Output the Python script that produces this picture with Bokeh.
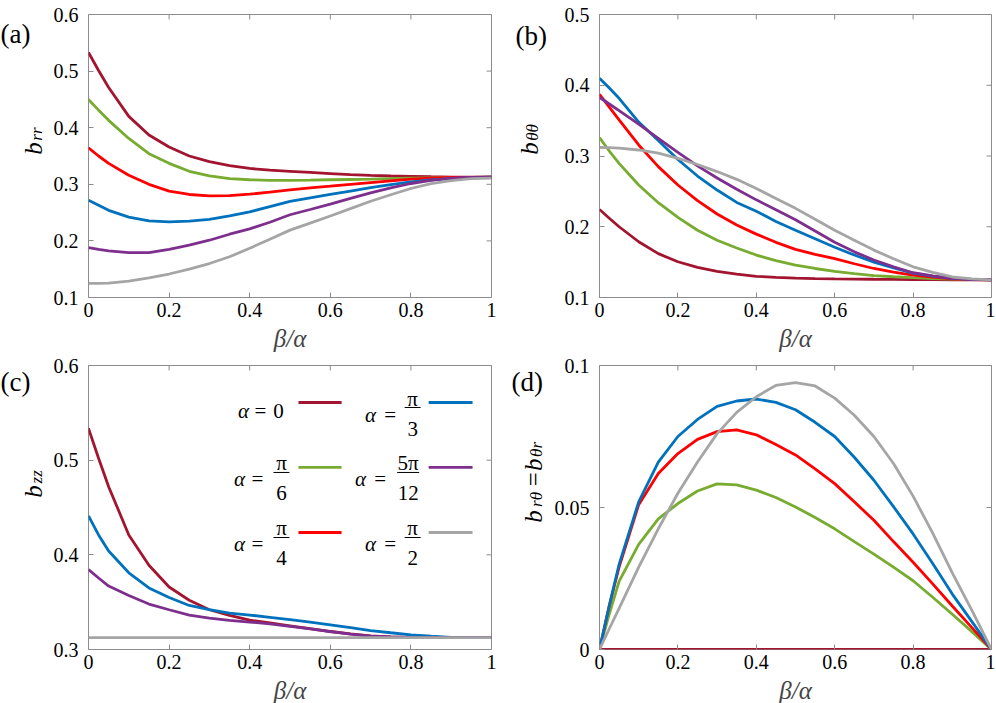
from bokeh.plotting import figure
from bokeh.models import Range1d, FixedTicker
from bokeh.layouts import column, row
from bokeh.embed import file_html
from bokeh.resources import INLINE
from bokeh.core.properties import value

# ---------------- data ----------------
beta = [0, 0.025, 0.05, 0.1, 0.15, 0.2, 0.25, 0.3, 0.35, 0.4, 0.45, 0.5,
        0.55, 0.6, 0.65, 0.7, 0.75, 0.8, 0.85, 0.9, 0.95, 1.0]

# panel (a): b_rr
brr_a0  = [0.533, 0.501, 0.471, 0.420, 0.387, 0.366, 0.350, 0.340, 0.333, 0.328, 0.325, 0.323,
           0.321, 0.319, 0.317, 0.3157, 0.3147, 0.314, 0.3133, 0.3128, 0.3126, 0.3125]
brr_a30 = [0.450, 0.431, 0.413, 0.381, 0.354, 0.337, 0.323, 0.315, 0.310, 0.308, 0.307, 0.307,
           0.3072, 0.308, 0.3085, 0.309, 0.310, 0.311, 0.3115, 0.312, 0.3123, 0.3125]
brr_a45 = [0.3645, 0.350, 0.337, 0.316, 0.300, 0.288, 0.282, 0.2796, 0.280, 0.2826, 0.286, 0.290,
           0.2935, 0.2966, 0.300, 0.303, 0.306, 0.309, 0.3107, 0.312, 0.3123, 0.3125]
brr_a60 = [0.272, 0.263, 0.254, 0.242, 0.2354, 0.2336, 0.2348, 0.238, 0.2443, 0.2513, 0.2605, 0.270,
           0.276, 0.282, 0.288, 0.294, 0.2995, 0.3044, 0.3078, 0.310, 0.3118, 0.3125]
brr_a75 = [0.1883, 0.185, 0.1824, 0.1794, 0.1794, 0.185, 0.1924, 0.2012, 0.2118, 0.2213, 0.233, 0.2462,
           0.2555, 0.265, 0.275, 0.285, 0.2935, 0.3014, 0.3068, 0.311, 0.312, 0.3125]
brr_a90 = [0.125, 0.125, 0.1255, 0.129, 0.1345, 0.1415, 0.150, 0.160, 0.172, 0.187, 0.203, 0.219,
           0.2315, 0.244, 0.257, 0.270, 0.2815, 0.2926, 0.301, 0.3065, 0.310, 0.311]

# panel (b): b_thetatheta
btt_a0  = [0.2245, 0.212, 0.200, 0.1788, 0.162, 0.1505, 0.1425, 0.1368, 0.133, 0.130, 0.1285, 0.1274,
           0.1268, 0.1264, 0.1261, 0.1258, 0.1256, 0.1254, 0.1252, 0.1251, 0.125, 0.125]
btt_a30 = [0.326, 0.307, 0.2896, 0.259, 0.234, 0.2132, 0.195, 0.181, 0.170, 0.160, 0.152, 0.1458,
           0.141, 0.137, 0.1337, 0.131, 0.1293, 0.128, 0.1268, 0.126, 0.1253, 0.125]
btt_a45 = [0.387, 0.369, 0.351, 0.3156, 0.285, 0.259, 0.237, 0.218, 0.2024, 0.1896, 0.178, 0.168,
           0.161, 0.155, 0.1477, 0.141, 0.136, 0.1316, 0.1287, 0.1264, 0.1254, 0.125]
btt_a60 = [0.410, 0.396, 0.3816, 0.348, 0.322, 0.295, 0.2717, 0.2519, 0.2344, 0.222, 0.2075, 0.195,
           0.183, 0.171, 0.160, 0.150, 0.1417, 0.1345, 0.1302, 0.127, 0.1256, 0.125]
btt_a75 = [0.383, 0.3735, 0.364, 0.345, 0.325, 0.305, 0.286, 0.269, 0.253, 0.238, 0.224, 0.210,
           0.194, 0.178, 0.1645, 0.153, 0.1434, 0.135, 0.1305, 0.127, 0.1256, 0.125]
btt_a90 = [0.312, 0.3117, 0.311, 0.3085, 0.304, 0.2967, 0.288, 0.278, 0.267, 0.254, 0.240, 0.226,
           0.2105, 0.195, 0.181, 0.167, 0.1547, 0.1434, 0.1355, 0.129, 0.1262, 0.125]

# panel (c): b_zz
bzz_a0  = [0.5336, 0.502, 0.472, 0.421, 0.389, 0.366, 0.352, 0.342, 0.336, 0.331, 0.328, 0.325,
           0.322, 0.319, 0.3165, 0.3145, 0.3134, 0.3127, 0.3125, 0.3125, 0.3125, 0.3125]
bzz_a60 = [0.441, 0.421, 0.404, 0.381, 0.365, 0.355, 0.3465, 0.342, 0.3385, 0.3364, 0.334, 0.3315,
           0.329, 0.326, 0.323, 0.320, 0.3177, 0.3155, 0.314, 0.3127, 0.3126, 0.3125]
bzz_a75 = [0.3845, 0.3755, 0.367, 0.357, 0.348, 0.342, 0.3364, 0.3332, 0.3307, 0.329, 0.327, 0.3245,
           0.3217, 0.319, 0.3163, 0.314, 0.3132, 0.3125, 0.3125, 0.3125, 0.3125, 0.3125]
bzz_a90 = [0.3125] * 22

# panel (d): b_rtheta = b_thetar
brt_a0  = [0.0] * 22
brt_a30 = [0.0, 0.0125, 0.024, 0.037, 0.046, 0.0514, 0.0558, 0.0583, 0.058, 0.0561, 0.0535, 0.0502,
           0.0465, 0.0425, 0.038, 0.0336, 0.029, 0.0242, 0.0184, 0.0124, 0.0063, 0.0]
brt_a45 = [0.0, 0.0155, 0.029, 0.051, 0.062, 0.069, 0.074, 0.0767, 0.0773, 0.0756, 0.0722, 0.0685,
           0.0636, 0.0584, 0.052, 0.0455, 0.038, 0.0307, 0.0231, 0.0153, 0.0077, 0.0]
brt_a60 = [0.0, 0.0155, 0.030, 0.052, 0.066, 0.075, 0.081, 0.0856, 0.0875, 0.0882, 0.0870, 0.0844,
           0.080, 0.075, 0.0677, 0.0596, 0.0503, 0.0407, 0.0303, 0.0195, 0.0098, 0.0]
brt_a90 = [0.0, 0.0073, 0.0145, 0.029, 0.0425, 0.055, 0.066, 0.076, 0.0835, 0.089, 0.093, 0.094,
           0.0928, 0.0885, 0.0825, 0.075, 0.0655, 0.054, 0.041, 0.027, 0.0138, 0.0]

x_ticks = [0, 0.2, 0.4, 0.6, 0.8, 1]
x_tick_labels = ["0", "0.2", "0.4", "0.6", "0.8", "1"]
ya_ticks = [0.1, 0.2, 0.3, 0.4, 0.5, 0.6]
ya_tick_labels = ["0.1", "0.2", "0.3", "0.4", "0.5", "0.6"]
yb_ticks = [0.1, 0.2, 0.3, 0.4, 0.5]
yb_tick_labels = ["0.1", "0.2", "0.3", "0.4", "0.5"]
yc_ticks = [0.3, 0.4, 0.5, 0.6]
yc_tick_labels = ["0.3", "0.4", "0.5", "0.6"]
yd_ticks = [0, 0.05, 0.1]
yd_tick_labels = ["0", "0.05", "0.1"]

C0, C30, C45, C60, C75, C90 = "#A2142F", "#77AC30", "#FF0000", "#0072BD", "#7E2F8E", "#A5A5A5"

# ---------------- style ----------------
SERIF = "Liberation Serif"
GRAY = "#8c8c8c"
LW = 2.8
ROT = 1.5707963267948966


def make_panel(frame_w, frame_h, yr, yticks, ylabels, borders):
    l, r, t, b = borders
    p = figure(frame_width=frame_w, frame_height=frame_h,
               x_range=Range1d(0, 1), y_range=Range1d(*yr),
               output_backend="svg", toolbar_location=None,
               min_border_left=l, min_border_right=r,
               min_border_top=t, min_border_bottom=b,
               background_fill_color="white", border_fill_color="white",
               outline_line_color=GRAY, outline_line_width=1)
    p.xgrid.visible = False
    p.ygrid.visible = False
    xa = p.xaxis[0]
    xa.ticker = FixedTicker(ticks=x_ticks)
    xa.major_label_overrides = dict(zip(x_ticks, x_tick_labels))
    xa.axis_label = "β/α"
    xa.axis_label_text_font = SERIF
    xa.axis_label_text_font_style = "italic"
    xa.axis_label_text_font_size = "25px"
    xa.axis_label_standoff = 5
    ya = p.yaxis[0]
    ya.ticker = FixedTicker(ticks=yticks)
    ya.major_label_overrides = dict(zip(yticks, ylabels))
    for ax in (xa, ya):
        ax.axis_line_color = None
        ax.major_tick_in = 5
        ax.major_tick_out = 0
        ax.major_tick_line_color = GRAY
        ax.minor_tick_line_color = None
        ax.major_label_text_font = SERIF
        ax.major_label_text_font_size = "20px"
        ax.major_label_text_color = "black"
    xa.major_label_standoff = 5
    ya.major_label_standoff = 10
    # mirrored inward ticks on the top and right edges of the box
    p.scatter(x_ticks, [yr[1]] * len(x_ticks), marker="dash", size=10, angle=ROT,
              line_color=GRAY, line_width=1)
    p.scatter([1] * len(yticks), yticks, marker="dash", size=10,
              line_color=GRAY, line_width=1)
    return p


def make_text_strip(width, height):
    s = figure(width=width, height=height, x_range=Range1d(0, width), y_range=Range1d(height, 0),
               output_backend="svg", toolbar_location=None,
               x_axis_location=None, y_axis_location=None, min_border=0,
               outline_line_color=None, background_fill_color="white",
               border_fill_color="white")
    s.xgrid.visible = False
    s.ygrid.visible = False
    return s


def txt(p, x, y, s, size, style="normal", angle=0.0, align="left", baseline="alphabetic"):
    p.text(x=[x], y=[y], text=[s], angle=angle, text_font=value(SERIF),
           text_font_size=value(f"{size}px"), text_font_style=style,
           text_align=align, text_baseline=baseline, text_color="black")


# ---------------- panel (a) ----------------
pa = make_panel(403, 283, (0.1, 0.6), ya_ticks, ya_tick_labels, (40, 8, 14, 58))
for ys, c in ((brr_a0, C0), (brr_a30, C30), (brr_a45, C45), (brr_a60, C60), (brr_a75, C75), (brr_a90, C90)):
    pa.line(beta, ys, line_color=c, line_width=LW)
sa = make_text_strip(48, 355)
txt(sa, 0, 25, "(a)", 27)
txt(sa, 33, 168, "b", 25, "italic", ROT, "center")
txt(sa, 36, 150, "rr", 17, "italic", ROT, "center")

# ---------------- panel (b) ----------------
pb = make_panel(392, 283, (0.1, 0.5), yb_ticks, yb_tick_labels, (50, 4, 14, 58))
for ys, c in ((btt_a0, C0), (btt_a30, C30), (btt_a45, C45), (btt_a60, C60), (btt_a75, C75), (btt_a90, C90)):
    pb.line(beta, ys, line_color=c, line_width=LW)
sb = make_text_strip(50, 355)   # page x 499..549
txt(sb, 515 - 499, 27, "(b)", 27)
txt(sb, 529 - 499, 168, "b", 25, "italic", ROT, "center")
txt(sb, 532 - 499, 148, "θθ", 17, "italic", ROT, "center")

# ---------------- panel (c) ----------------
FW_C, FH_C = 403, 284
pc = make_panel(FW_C, FH_C, (0.3, 0.6), yc_ticks, yc_tick_labels, (40, 8, 10, 53))
for ys, c in ((bzz_a0, C0), (bzz_a60, C60), (bzz_a75, C75), (bzz_a90, C90)):
    pc.line(beta, ys, line_color=c, line_width=LW)
sc = make_text_strip(48, 347)   # page y 355..702
txt(sc, 0, 375 - 355, "(c)", 27)
txt(sc, 33, 511 - 355, "b", 25, "italic", ROT, "center")
txt(sc, 36, 493 - 355, "zz", 17, "italic", ROT, "center")

# legend inside panel (c): anchor rows/columns in data space, pieces offset in pixels
PXX = 1.0 / FW_C
PXY = 0.3 / FH_C
leg_rows = [0.5609, 0.4923, 0.4236]
leg_cols = [(0.521, 0.628), (0.844, 0.953)]
leg_entries = [
    (0, 0, C0, None, None, "0"),
    (0, 1, C30, "π", "6", None),
    (0, 2, C45, "π", "4", None),
    (1, 0, C60, "π", "3", None),
    (1, 1, C75, "5π", "12", None),
    (1, 2, C90, "π", "2", None),
]
tx, ty, tt, ts = [], [], [], []
bars_x0, bars_x1, bars_y = [], [], []
for col, r, c, num, den, plain in leg_entries:
    x0, x1 = leg_cols[col]
    yr_ = leg_rows[r]
    pc.line([x0, x1], [yr_, yr_], line_color=c, line_width=LW)
    if plain is not None:
        pieces = [("α", -55, 8, "italic"), ("=", -38, 8, "normal"), (plain, -20, 8, "normal")]
    else:
        if len(den) == 2:
            a_dx, e_dx, fc, hw = -68, -48.5, -20.5, 11
        elif col == 0:
            a_dx, e_dx, fc, hw = -59, -41, -17, 8
        else:
            a_dx, e_dx, fc, hw = -58, -38.5, -16, 8
        pieces = [("α", a_dx, 12, "italic"), ("=", e_dx, 12, "normal"),
                  (num, fc, -4, "normal"), (den, fc, 26, "normal")]
        bars_x0.append(x0 + (fc - hw) * PXX)
        bars_x1.append(x0 + (fc + hw) * PXX)
        bars_y.append(yr_ - 5 * PXY)
    for t, dx, dy, st in pieces:
        tx.append(x0 + dx * PXX)
        ty.append(yr_ - dy * PXY)
        tt.append(t)
        ts.append(st)

for style in ("normal", "italic"):
    idx = [i for i in range(len(tt)) if ts[i] == style]
    pc.text([tx[i] for i in idx], [ty[i] for i in idx], text=[tt[i] for i in idx],
            text_font=value(SERIF), text_font_size="21px", text_font_style=style,
            text_align="center", text_baseline="alphabetic", text_color="black")
pc.segment(bars_x0, bars_y, bars_x1, bars_y, line_color="black", line_width=1)

# ---------------- panel (d) ----------------
pd_ = make_panel(392, 284, (0, 0.1), yd_ticks, yd_tick_labels, (50, 4, 10, 53))
for ys, c in ((brt_a0, C0), (brt_a30, C30), (brt_a45, C45), (brt_a60, C60), (brt_a90, C90)):
    pd_.line(beta, ys, line_color=c, line_width=LW)
sd = make_text_strip(50, 347)   # page x 499..549, y 355..702
txt(sd, 511 - 499, 375 - 355, "(d)", 27)
txt(sd, 533 - 499, 542 - 355, "b", 25, "italic", ROT, "center")
txt(sd, 536 - 499, 521 - 355, "rθ", 17, "italic", ROT, "center")
txt(sd, 533 - 499, 496 - 355, "=", 25, "normal", ROT, "center")
txt(sd, 533 - 499, 478 - 355, "b", 25, "italic", ROT, "center")
txt(sd, 536 - 499, 459 - 355, "θr", 17, "italic", ROT, "center")

layout = column(row(sa, pa, sb, pb, spacing=0), row(sc, pc, sd, pd_, spacing=0), spacing=0)
open("out.html", "w").write(file_html(layout, INLINE))
